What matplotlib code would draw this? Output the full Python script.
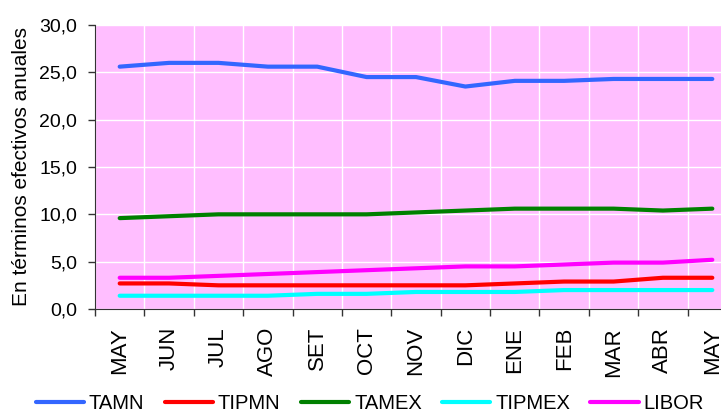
import matplotlib.pyplot as plt

plt.rcParams['font.family'] = ['Liberation Sans', 'DejaVu Sans']

meses = ['MAY', 'JUN', 'JUL', 'AGO', 'SET', 'OCT', 'NOV', 'DIC',
         'ENE', 'FEB', 'MAR', 'ABR', 'MAY']

tamn = [25.6, 26.0, 26.0, 25.6, 25.6, 24.5, 24.5, 23.5, 24.1, 24.1, 24.3, 24.3, 24.3]
tipmn = [2.7, 2.7, 2.5, 2.5, 2.5, 2.5, 2.5, 2.5, 2.7, 2.9, 2.9, 3.3, 3.3]
tamex = [9.6, 9.8, 10.0, 10.0, 10.0, 10.0, 10.2, 10.4, 10.6, 10.6, 10.6, 10.4, 10.6]
tipmex = [1.4, 1.4, 1.4, 1.4, 1.6, 1.6, 1.8, 1.8, 1.8, 2.0, 2.0, 2.0, 2.0]
libor = [3.3, 3.3, 3.5, 3.7, 3.9, 4.1, 4.3, 4.5, 4.5, 4.7, 4.9, 4.9, 5.2]

series = [('TAMN', tamn, '#3366FF'),
          ('TIPMN', tipmn, '#FF0000'),
          ('TAMEX', tamex, '#008000'),
          ('TIPMEX', tipmex, '#00FFFF'),
          ('LIBOR', libor, '#FF00FF')]

fig = plt.figure(figsize=(7.21, 4.17), dpi=100)
# plot area runs past the right edge like the original
ax = fig.add_axes([95/721, 1 - 309/417, 642/721, 284/417])
ax.set_facecolor('#FFBEFF')

x = list(range(len(meses)))
for nombre, vals, col in series:
    ax.plot(x, vals, color=col, lw=3.0, label=nombre, solid_capstyle='round')

ax.set_xlim(-0.5, len(meses) - 0.5)
ax.set_ylim(0, 30)
ax.set_yticks(range(0, 31, 5))
ax.set_yticklabels([f'{v:.1f}'.replace('.', ',') for v in range(0, 31, 5)])

ax.set_xticks([i - 0.5 for i in range(len(meses) + 1)])
ax.set_xticklabels([])
ax.set_xticks(x, minor=True)
ax.set_xticklabels(meses, minor=True, rotation=90)
ax.tick_params(axis='both', which='major', direction='out', length=5, width=1, color='#333333')
ax.tick_params(axis='x', which='minor', length=0, pad=13, labelsize=16)
ax.tick_params(axis='y', pad=8, labelsize=14)

ax.grid(True, which='major', color='white', lw=1)
ax.set_axisbelow(True)
for s in ['top', 'right']:
    ax.spines[s].set_visible(False)
for s in ['left', 'bottom']:
    ax.spines[s].set_color('#333333')

ax.set_ylabel('En términos efectivos anuales', fontsize=15, labelpad=6)

fig.legend(loc='lower center', bbox_to_anchor=(0.513, -0.035), ncol=5, frameon=False,
           fontsize=14.5, handlelength=2.4, handletextpad=0.25, columnspacing=1.0)

fig.savefig('out.png', dpi=100)
